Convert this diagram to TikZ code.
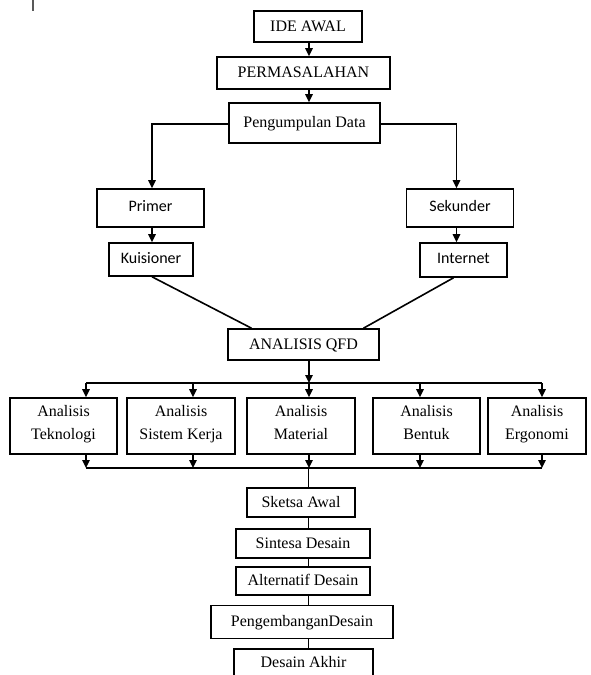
\documentclass[tikz,border=0pt]{standalone}
\usepackage{fontspec}
\setmainfont{Liberation Serif}
\newfontfamily\calibri{Carlito}
\usetikzlibrary{arrows.meta}

\tikzset{
	Kotak/.style={
        draw=black, line width=1.2pt, rectangle, inner sep=0pt,
        font=\fontsize{12}{17}\selectfont, align=center,
        execute at begin node=\strut, execute at end node=\strut
	}
}
\tikzset{
	KotakSans/.style={
        Kotak, font=\calibri\fontsize{12}{14}\selectfont
	}
}
\tikzset{
	Garis/.style={black, line width=1.2pt}
}
\tikzset{
	Panah/.style={Garis, -{Triangle[length=6pt,width=5.5pt]}}
}

\begin{document}
\begin{tikzpicture}[x=0.75pt,y=-0.75pt]
\clip (0,0) rectangle (590,675);
\useasboundingbox (0,0) rectangle (590,675);
%Kursor
\draw[gray!70!black, line width=1.1pt] (33,0) -- (33,11);

\node[Kotak, minimum width=81pt, minimum height=23.25pt] (ide) at (308,26.5) {IDE AWAL};
\node[Kotak, minimum width=129.75pt, minimum height=24pt] (perm) at (303.5,73) {PERMASALAHAN};
\node[Kotak, minimum width=113.25pt, minimum height=30pt] (pd) at (304.5,123) {Pengumpulan Data};

\node[KotakSans, minimum width=80.25pt, minimum height=28.5pt] (primer) at (150.5,208) {Primer};
\node[KotakSans, minimum width=63pt, minimum height=24.75pt] (kuis) at (151,259.5) {Kuisioner};
\node[KotakSans, minimum width=80.25pt, minimum height=28.5pt] (sekunder) at (460,208) {Sekunder};
\node[KotakSans, minimum width=65.25pt, minimum height=25.5pt] (internet) at (463.5,260) {Internet};

\node[Kotak, minimum width=113.25pt, minimum height=23.25pt] (qfd) at (303.5,344.5) {ANALISIS QFD};

\node[Kotak, minimum width=80.25pt, minimum height=42pt] (tek) at (63.5,426) {Analisis\\Teknologi};
\node[Kotak, minimum width=80.6pt, minimum height=42pt] (sis) at (181,426) {Analisis\\Sistem Kerja};
\node[Kotak, minimum width=80.6pt, minimum height=42pt] (mat) at (301,426) {Analisis\\Material};
\node[Kotak, minimum width=80.25pt, minimum height=42pt] (ben) at (426.5,426) {Analisis\\Bentuk};
\node[Kotak, minimum width=73.5pt, minimum height=42pt] (erg) at (537,426) {Analisis\\Ergonomi};

\node[Kotak, minimum width=81pt, minimum height=21.75pt] (sketsa) at (301,502.5) {Sketsa Awal};
\node[Kotak, minimum width=100.5pt, minimum height=21.75pt] (sintesa) at (303,543.5) {Sintesa Desain};
\node[Kotak, minimum width=100.5pt, minimum height=21pt] (alt) at (303,581) {Alternatif Desain};
\node[Kotak, minimum width=136.5pt, minimum height=24.75pt] (peng) at (302,622) {PengembanganDesain};
\node[Kotak, minimum width=104.25pt, minimum height=21pt] (akhir) at (303.5,663) {Desain Akhir};

%Tulang
\coordinate (sp) at (309,0);
\coordinate (kiri) at (152,124);
\coordinate (kanan) at (456.5,124);
\coordinate (d1) at (86,383);
\coordinate (d2) at (193,383);
\coordinate (d3) at (309,383);
\coordinate (d4) at (420,383);
\coordinate (d5) at (542,383);
\coordinate (bawah) at (308.5,468);
\coordinate (sb) at (308.5,0);

\draw[Panah] (sp |- ide.south) -- (sp |- perm.north);
\draw[Panah] (sp |- perm.south) -- (sp |- pd.north);

\draw[Panah] (pd.west |- kiri) -- (kiri) -- (kiri |- primer.north);
\draw[Panah] (pd.east |- kanan) -- (kanan) -- (kanan |- sekunder.north);
\draw[Panah] (kiri |- primer.south) -- (kiri |- kuis.north);
\draw[Panah] (kanan |- sekunder.south) -- (kanan |- internet.north);

\draw[Garis] (kiri |- kuis.south) -- ([xshift=-39pt]qfd.north);
\draw[Garis] ([xshift=-7.5pt]internet.south) -- ([xshift=45pt]qfd.north);

\draw[Panah] (sp |- qfd.south) -- (d3);
\draw[Garis] (d1) -- (d5);
\foreach \d/\k in {d1/tek,d2/sis,d3/mat,d4/ben,d5/erg}{
\draw[Panah] (\d) -- (\d |- \k.north);
\draw[Panah] (\d |- \k.south) -- (\d |- bawah);
}
\draw[Garis] (d1 |- bawah) -- (d5 |- bawah);

\draw[Garis] (bawah) -- (sb |- sketsa.north);
\draw[Garis] (sb |- sketsa.south) -- (sb |- sintesa.north);
\draw[Garis] (sb |- sintesa.south) -- (sb |- alt.north);
\draw[Garis] (sb |- alt.south) -- (sb |- peng.north);
\draw[Garis] (sb |- peng.south) -- (sb |- akhir.north);
\end{tikzpicture}
\end{document}
